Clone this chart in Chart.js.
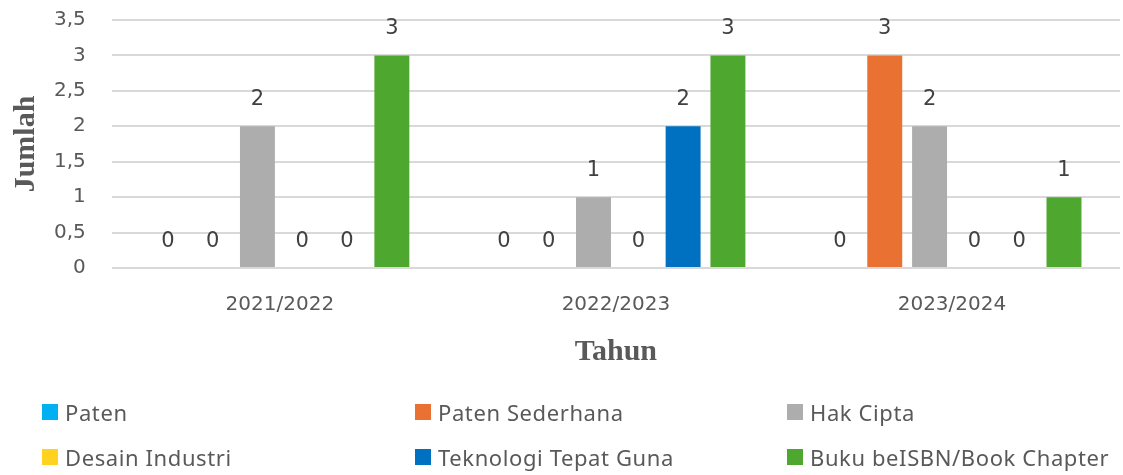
<!DOCTYPE html>
<html>
<head>
<meta charset="utf-8">
<script src="https://cdn.jsdelivr.net/npm/chart.js@4/dist/chart.umd.min.js"></script>
<style>
  body { margin: 0; background: #fff; overflow: hidden; }
  #wrap { position: relative; width: 1123px; height: 475px; overflow: hidden; }
  #chartBox { position: absolute; left: -16px; top: -18px; width: 1139px; height: 388px; }
  .legend { position: absolute; left: 0; top: 0; width: 1123px; height: 475px; pointer-events: none;
            font-family: "Noto Sans", sans-serif; font-size: 22px; letter-spacing: 0.6px; color: #595959; }
  .item { position: absolute; display: flex; align-items: center; white-space: nowrap; }
  .sw { width: 16px; height: 16px; margin-right: 7px; }
</style>
</head>
<body>
<div id="wrap">
  <div id="chartBox"><canvas id="chart"></canvas></div>
  <div class="legend" id="legend"></div>
</div>
<script>
// categories and values
const categories = ['2021/2022', '2022/2023', '2023/2024'];
const seriesNames = ['Paten', 'Paten Sederhana', 'Hak Cipta', 'Desain Industri', 'Teknologi Tepat Guna', 'Buku beISBN/Book Chapter'];
const paten = [0, 0, 0];
const patenSederhana = [0, 0, 3];
const hakCipta = [2, 1, 2];
const desainIndustri = [0, 0, 0];
const teknologiTepatGuna = [0, 2, 0];
const bukuISBN = [3, 3, 1];
const seriesColors = ['#00B0F0', '#E97132', '#ADADAD', '#FFD21F', '#0070C0', '#4EA72E'];

const allValues = [paten, patenSederhana, hakCipta, desainIndustri, teknologiTepatGuna, bukuISBN];

// value labels above every bar (no datalabels plugin available)
const valueLabels = {
  id: 'valueLabels',
  afterDatasetsDraw(chart) {
    const ctx = chart.ctx;
    ctx.save();
    ctx.font = '21px "DejaVu Sans", sans-serif';
    ctx.fillStyle = '#404040';
    ctx.textAlign = 'center';
    ctx.textBaseline = 'bottom';
    chart.data.datasets.forEach((ds, i) => {
      chart.getDatasetMeta(i).data.forEach((bar, j) => {
        ctx.fillText(String(ds.data[j]).replace('.', ','), bar.x, bar.y - 16);
      });
    });
    ctx.restore();
  }
};

new Chart(document.getElementById('chart'), {
  type: 'bar',
  data: {
    labels: categories,
    datasets: seriesNames.map((name, i) => ({
      label: name,
      data: allValues[i],
      backgroundColor: seriesColors[i],
      barPercentage: 0.78,
      categoryPercentage: 0.8
    }))
  },
  options: {
    responsive: true,
    maintainAspectRatio: false,
    animation: false,
    layout: { padding: { left: 8, right: 3, top: 0, bottom: 0 } },
    plugins: { legend: { display: false }, tooltip: { enabled: false } },
    scales: {
      x: {
        grid: { display: false },
        border: { display: false },
        ticks: { color: '#595959', font: { family: '"DejaVu Sans", sans-serif', size: 20 }, padding: 17 },
        title: { display: true, text: 'Tahun', color: '#595959', padding: { top: 0, bottom: 0 },
                 font: { family: '"Liberation Serif", "Times New Roman", serif', size: 30, weight: 'bold' } }
      },
      y: {
        min: 0, max: 3.5,
        ticks: { stepSize: 0.5, color: '#595959', padding: 26,
                 font: { family: '"DejaVu Sans", sans-serif', size: 20 },
                 callback: v => String(v).replace('.', ',') },
        grid: { color: '#D9D9D9', lineWidth: 2, drawTicks: false },
        border: { display: false },
        title: { display: true, text: 'Jumlah', color: '#595959', padding: { top: 16, bottom: -16 },
                 font: { family: '"Liberation Serif", "Times New Roman", serif', size: 30, weight: 'bold' } }
      }
    }
  },
  plugins: [valueLabels]
});

// legend in a 3x2 grid like the original
const legendBox = document.getElementById('legend');
const colX = [42, 415, 787];
const rowY = [413, 458];
seriesNames.forEach((name, i) => {
  const el = document.createElement('div');
  el.className = 'item';
  el.style.left = colX[i % 3] + 'px';
  el.style.top = (rowY[Math.floor(i / 3)] - 16) + 'px';
  el.innerHTML = '<span class="sw" style="background:' + seriesColors[i] + '"></span><span>' + name + '</span>';
  legendBox.appendChild(el);
});
</script>
</body>
</html>
